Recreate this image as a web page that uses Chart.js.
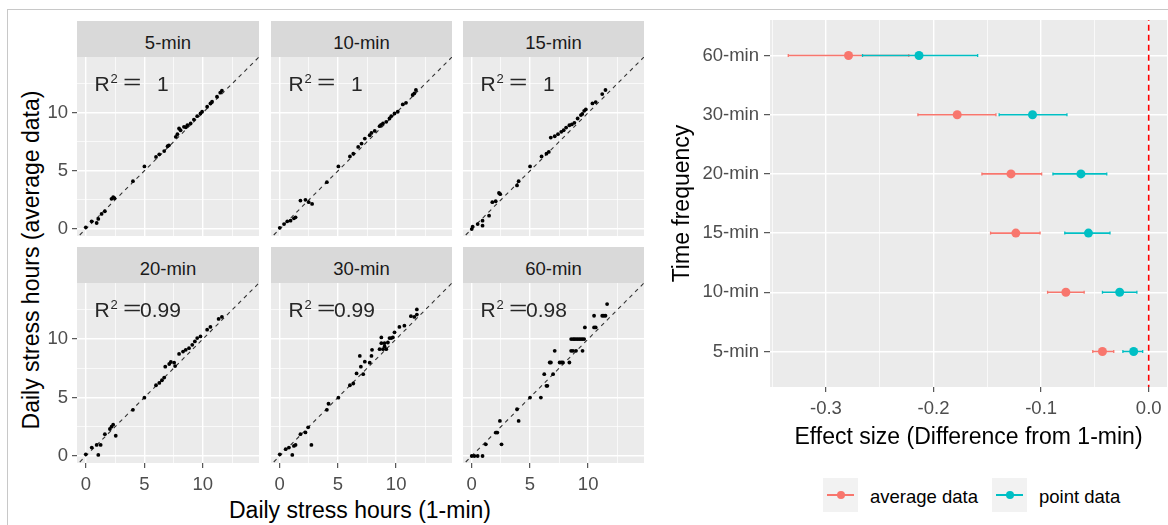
<!DOCTYPE html>
<html>
<head>
<meta charset="utf-8">
<script src="https://cdn.jsdelivr.net/npm/chart.js@4.4.0/dist/chart.umd.min.js"></script>
<style>
  body { margin: 0; background: #fff; width: 1168px; height: 525px; position: relative; overflow: hidden;
         font-family: "Liberation Sans", Arial, sans-serif; }
  canvas { position: absolute; }
  .line { position: absolute; background: #C8C8C8; }
  .strip { position: absolute; background: #D9D9D9; color: #1A1A1A; font-size: 18.5px; text-align: center;
           height: 36px; line-height: 36px; }
  .strip span { position: relative; top: 4px; }
  .r2 { position: absolute; z-index: 2; color: #262626; }
  .r2 span { position: absolute; white-space: pre; }
  .title { position: absolute; color: #000; font-size: 23px; line-height: 26px; text-align: center; white-space: nowrap; }
  .key { position: absolute; background: #F2F2F2; width: 35px; height: 34px; }
  .key .bar { position: absolute; left: 4px; top: 16px; width: 27px; height: 1.5px; }
  .key .dot { position: absolute; left: 14px; top: 13px; width: 8px; height: 8px; border-radius: 50%; }
  .ltext { position: absolute; font-size: 18.5px; line-height: 19px; color: #000; white-space: nowrap; }
</style>
</head>
<body>
<div class="line" style="left:7px;top:9px;width:1161px;height:1px"></div>
<div class="line" style="left:7px;top:9px;width:1px;height:516px"></div>

<div class="title" style="left:-169px;top:247px;width:400px;transform:rotate(-90deg)">Daily stress hours (average data)</div>
<div class="title" style="left:110px;top:497px;width:500px">Daily stress hours (1-min)</div>

<div class="key" style="left:823px;top:478px"><div class="bar" style="background:#F8766D"></div><div class="dot" style="background:#F8766D"></div></div>
<div class="ltext" style="left:870px;top:487px">average data</div>
<div class="key" style="left:992px;top:478px"><div class="bar" style="background:#00BFC4"></div><div class="dot" style="background:#00BFC4"></div></div>
<div class="ltext" style="left:1039px;top:487px">point data</div>

<canvas id="effect" width="508" height="440" style="left:660px;top:12px;width:508px;height:440px"></canvas>

<script>
Chart.defaults.font.family = '"Liberation Sans", Arial, sans-serif';

// facet panels: daily stress hours, 1-min (x) vs coarser sampling (y)
const panelNames = ['5-min', '10-min', '15-min', '20-min', '30-min', '60-min'];
const r2Labels = ['1', '1', '1', '0.99', '0.99', '0.98'];
const facetTicks = [0, 2.5, 5, 7.5, 10, 12.5];

const pts5 = [[0,0.15],[0.5,0.66],[0.93,0.52],[1.07,0.87],[1.35,1.3],[1.63,1.53],[2.2,2.6],[2.34,2.74],[2.45,2.65],
  [4.03,4.12],[5.01,5.39],[6.0,6.2],[6.28,6.43],[6.7,6.71],[6.99,7.12],[7.1,7.2],[7.69,7.93],[7.83,8.16],[7.97,8.65],
  [8.1,8.5],[8.39,8.79],[8.55,8.75],[8.68,8.93],[8.96,9.08],[9.24,9.42],[9.52,9.71],[9.8,9.94],[9.94,10.09],
  [10.37,10.52],[10.65,10.81],[10.79,10.95],[11.21,11.38],[11.49,11.73],[11.63,11.9]];
const pts10 = [[0,0.1],[0.37,0.43],[0.65,0.66],[0.93,0.72],[1.22,0.92],[1.36,1.01],[1.78,2.45],[2.21,2.51],[2.49,2.31],
  [2.78,2.16],[4.05,4.03],[5.04,5.39],[6.03,6.25],[6.32,6.48],[6.74,7.06],[7.03,7.35],[7.31,7.78],[7.73,8.07],[7.88,8.27],
  [8.16,8.44],[8.58,8.85],[8.7,8.95],[8.87,9.08],[9.15,9.22],[9.43,9.51],[9.58,9.71],[9.86,9.94],[10.14,10.09],
  [10.57,10.72],[10.85,10.86],[11.42,11.53],[11.56,11.67],[11.7,11.96]];
const pts15 = [[0,0],[0.08,0.2],[0.51,0.43],[0.93,0.29],[0.93,0.72],[1.49,1.15],[1.77,2.31],[2.06,2.39],[2.34,3.1],
  [2.45,3.0],[3.89,3.75],[4.03,4.12],[5.01,5.39],[6.0,6.25],[6.42,6.48],[6.62,6.63],[6.79,7.87],[7.13,7.98],[7.41,8.16],
  [7.69,8.36],[7.9,8.5],[8.11,8.73],[8.39,8.93],[8.6,9.0],[8.82,9.14],[9.1,9.51],[9.38,9.8],[9.5,9.9],[9.66,10.17],
  [9.8,10.29],[10.37,10.81],[10.65,10.92],[11.21,11.61],[11.49,11.96]];
const pts20 = [[0,0.14],[0.51,0.72],[0.93,0.95],[1.07,0.09],[1.27,0.95],[1.63,1.87],[2.06,2.31],[2.2,2.51],[2.34,2.68],
  [2.56,1.73],[4.03,3.95],[5.01,4.99],[6.0,6.05],[6.28,6.25],[6.51,6.48],[6.7,6.71],[6.79,7.64],[7.13,7.87],[7.27,8.04],
  [7.55,7.98],[7.63,7.69],[7.97,8.73],[8.31,8.93],[8.54,9.08],[8.82,9.22],[9.1,9.51],[9.32,9.8],[9.52,10.09],[9.8,10.23],
  [10.37,10.81],[10.65,11.04],[11.35,11.73],[11.63,11.9]];
const pts30 = [[0,0.14],[0.51,0.58],[0.79,0.72],[1.08,0.09],[1.22,0.86],[1.36,0.95],[1.78,1.87],[2.21,2.02],[2.44,2.45],
  [2.72,0.95],[4.05,3.95],[4.19,4.47],[5.04,4.99],[6.03,6.05],[6.32,6.2],[6.6,7.06],[6.88,8.56],[6.97,7.64],[7.17,7.0],
  [7.31,8.07],[7.73,7.98],[7.88,8.56],[7.93,9.08],[8.58,9.14],[8.73,9.65],[8.73,10.14],[8.87,9.14],[9.01,9.37],
  [9.15,9.14],[9.0,9.65],[9.29,9.71],[9.43,10.09],[9.58,10.09],[9.72,10.14],[9.86,10.58],[10.28,11.04],[10.71,11.15],
  [11.27,11.96],[11.56,11.9],[11.78,12.54],[11.78,12.1]];
const pts60 = [[0,0],[0.23,0],[0.51,0],[0.93,0],[1.21,1],[2.06,2],[2.2,2],[2.42,3],[2.56,1],[3.89,4],[4.03,3],[5.01,5],
  [5.94,5],[6.23,7],[6.42,6],[6.5,6],[6.7,8],[6.8,8],[6.99,7],[7.13,9],[7.55,8],[7.7,8],[7.83,8],[8.39,8],[8.54,9],
  [8.7,9],[8.96,9],[9.52,9],[8.54,10],[8.7,10],[8.82,10],[8.96,10],[9.1,10],[9.24,10],[9.38,10],[9.52,10],[9.66,10],
  [9.72,11],[10.51,11],[10.65,11],[10.51,12],[11.21,12],[11.35,12],[11.49,12],[11.63,13]];
const panelPoints = [pts5, pts10, pts15, pts20, pts30, pts60];
const identityLine = [-1, 16];

// effect sizes (difference from 1-min) with 95% CI
const freqLabels = ['5-min', '10-min', '15-min', '20-min', '30-min', '60-min'];
const avgEst = [-0.043, -0.077, -0.1235, -0.128, -0.178, -0.279];
const avgLo  = [-0.052, -0.094, -0.147, -0.155, -0.2145, -0.335];
const avgHi  = [-0.0325, -0.060, -0.101, -0.0995, -0.142, -0.223];
const ptEst  = [-0.014, -0.027, -0.056, -0.063, -0.108, -0.2135];
const ptLo   = [-0.024, -0.043, -0.078, -0.089, -0.139, -0.266];
const ptHi   = [-0.0056, -0.011, -0.036, -0.039, -0.076, -0.159];
const effectTicks = [-0.35, -0.3, -0.25, -0.2, -0.15, -0.1, -0.05, 0];

const RED = '#F8766D', CYAN = '#00BFC4';
const tickFont = { size: 18.5 };

const panelBg = {
  id: 'panelBg',
  beforeDraw(chart) {
    const { ctx, chartArea: a } = chart;
    ctx.save();
    ctx.fillStyle = '#EBEBEB';
    ctx.fillRect(a.left, a.top, a.right - a.left, a.bottom - a.top);
    ctx.restore();
  }
};

const tickVal = (ctx) => (ctx.tick ? ctx.tick.value : NaN);
const isMajor5 = (v) => Math.abs(v % 5) < 1e-9;

// ---- facets ----
const colLeft = [77, 271, 463], colW = [182, 181, 181];
const rowTop = [57, 283], rowH = [179, 180];

panelNames.forEach((name, i) => {
  const r = Math.floor(i / 3), c = i % 3;
  const showY = c === 0, showX = r === 1;
  const padL = showY ? 0 : 4, padT = 4, padR = 4, padB = showX ? 0 : 8;
  const yW = showY ? 50 : 0, xH = showX ? 35 : 0;
  const w = colW[c] + padL + padR + yW, h = rowH[r] + padT + padB + xH;

  const cv = document.createElement('canvas');
  cv.width = w; cv.height = h;
  cv.style.left = (colLeft[c] - padL - yW) + 'px';
  cv.style.top = (rowTop[r] - padT) + 'px';
  cv.style.width = w + 'px'; cv.style.height = h + 'px';
  document.body.appendChild(cv);

  const strip = document.createElement('div');
  strip.className = 'strip';
  strip.style.left = colLeft[c] + 'px';
  strip.style.top = (rowTop[r] - 36) + 'px';
  strip.style.width = colW[c] + 'px';
  strip.innerHTML = '<span>' + name + '</span>';
  document.body.appendChild(strip);

  const r2 = document.createElement('div');
  r2.className = 'r2';
  r2.style.left = colLeft[c] + 'px';
  r2.style.top = rowTop[r] + 'px';
  const val = r2Labels[i];
  r2.innerHTML =
    '<span style="left:17.5px;top:15.5px;font-size:21px;line-height:21px">R</span>' +
    '<span style="left:33.5px;top:15px;font-size:13px;line-height:13px">2</span>' +
    '<span style="left:45.5px;top:14px;font-size:21px;line-height:21px;transform:scaleX(1.5);transform-origin:0 0">=</span>' +
    '<span style="left:' + (val.length > 1 ? 63 : 80) + 'px;top:15.5px;font-size:21px;line-height:21px">' + val + '</span>';
  document.body.appendChild(r2);

  const gridOpts = (show) => ({
    color: '#FFFFFF',
    lineWidth: (ctx) => (isMajor5(tickVal(ctx)) ? 1.4 : 0.7),
    drawTicks: show,
    tickLength: 5,
    tickWidth: 1,
    tickColor: (ctx) => (isMajor5(tickVal(ctx)) ? '#333333' : 'rgba(0,0,0,0)')
  });

  new Chart(cv, {
    type: 'scatter',
    data: {
      datasets: [
        {
          data: panelPoints[i].map(p => ({ x: p[0], y: p[1] })),
          pointRadius: 1.9,
          pointBackgroundColor: '#000',
          pointBorderWidth: 0
        },
        {
          type: 'line',
          data: identityLine.map(v => ({ x: v, y: v })),
          borderColor: '#333333',
          borderWidth: 1.1,
          borderDash: [4, 4],
          pointRadius: 0,
          clip: 0
        }
      ]
    },
    options: {
      responsive: false,
      animation: false,
      devicePixelRatio: 1,
      events: [],
      layout: { autoPadding: false, padding: { left: padL, top: padT, right: padR, bottom: padB } },
      plugins: { legend: { display: false }, tooltip: { enabled: false } },
      scales: {
        x: {
          type: 'linear', min: -0.75, max: 14.8,
          afterBuildTicks: (ax) => { ax.ticks = facetTicks.map(v => ({ value: v })); },
          afterFit: (ax) => { ax.height = xH; ax.paddingLeft = 0; ax.paddingRight = 0; },
          grid: gridOpts(showX),
          border: { display: false },
          ticks: {
            display: showX, autoSkip: false, maxRotation: 0, padding: 6,
            color: '#4D4D4D', font: tickFont,
            callback: (v) => (isMajor5(v) ? String(v) : '')
          }
        },
        y: {
          type: 'linear', min: -0.6, max: 14.8,
          afterBuildTicks: (ax) => { ax.ticks = facetTicks.map(v => ({ value: v })); },
          afterFit: (ax) => { ax.width = yW; ax.paddingTop = 0; ax.paddingBottom = 0; },
          grid: gridOpts(showY),
          border: { display: false },
          ticks: {
            display: showY, autoSkip: false, padding: 4,
            color: '#4D4D4D', font: tickFont,
            callback: (v) => (isMajor5(v) ? String(v) : '')
          }
        }
      }
    },
    plugins: [panelBg]
  });
});

// ---- effect size plot ----
const isMajor10 = (v) => Math.abs(Math.round(v * 10) - v * 10) < 1e-6;

function errorBarData(lo, hi) {
  const out = [];
  lo.forEach((l, i) => {
    out.push({ x: l, y: i + 1 }, { x: hi[i], y: i + 1 }, { x: hi[i], y: null });
  });
  return out;
}

new Chart(document.getElementById('effect'), {
  type: 'scatter',
  data: {
    datasets: [
      {
        label: 'point data',
        data: ptEst.map((v, i) => ({ x: v, y: i + 1 })),
        pointRadius: 4.5, pointBackgroundColor: CYAN, pointBorderWidth: 0
      },
      {
        label: 'average data',
        data: avgEst.map((v, i) => ({ x: v, y: i + 1 })),
        pointRadius: 4.5, pointBackgroundColor: RED, pointBorderWidth: 0
      },
      {
        type: 'line',
        data: errorBarData(ptLo, ptHi),
        borderColor: CYAN, borderWidth: 1.6, spanGaps: false,
        pointStyle: 'line', rotation: 90, pointRadius: 1.5, pointBorderColor: CYAN, pointBorderWidth: 1.3
      },
      {
        type: 'line',
        data: errorBarData(avgLo, avgHi),
        borderColor: RED, borderWidth: 1.6, spanGaps: false,
        pointStyle: 'line', rotation: 90, pointRadius: 1.5, pointBorderColor: RED, pointBorderWidth: 1.3
      },
      {
        type: 'line',
        data: [{ x: 0, y: 0 }, { x: 0, y: 7 }],
        borderColor: '#FF0000', borderWidth: 1.6, borderDash: [6, 4],
        pointRadius: 0, clip: 0
      }
    ]
  },
  options: {
    responsive: false,
    animation: false,
    devicePixelRatio: 1,
    events: [],
    layout: { autoPadding: false, padding: { left: 0, top: 8, right: 1, bottom: 0 } },
    plugins: { legend: { display: false }, tooltip: { enabled: false } },
    scales: {
      x: {
        type: 'linear', min: -0.352, max: 0.017,
        afterBuildTicks: (ax) => { ax.ticks = effectTicks.map(v => ({ value: v })); },
        afterFit: (ax) => { ax.height = 65; ax.paddingLeft = 0; ax.paddingRight = 0; },
        grid: {
          color: '#FFFFFF',
          lineWidth: (ctx) => (isMajor10(tickVal(ctx)) ? 1.4 : 0.7),
          tickLength: 5, tickWidth: 1,
          tickColor: (ctx) => (isMajor10(tickVal(ctx)) ? '#333333' : 'rgba(0,0,0,0)')
        },
        border: { display: false },
        ticks: {
          autoSkip: false, maxRotation: 0, padding: 6, color: '#4D4D4D', font: tickFont,
          callback: (v) => (isMajor10(v) ? (Math.round(v * 10) / 10).toFixed(1) : '')
        },
        title: {
          display: true, text: 'Effect size (Difference from 1-min)', color: '#000',
          font: { size: 23 }, padding: { top: 0, bottom: 1 }
        }
      },
      y: {
        type: 'linear', min: 0.4, max: 6.6,
        afterBuildTicks: (ax) => { ax.ticks = freqLabels.map((_, i) => ({ value: i + 1 })); },
        afterFit: (ax) => { ax.width = 110; ax.paddingTop = 0; ax.paddingBottom = 0; },
        grid: { color: '#FFFFFF', lineWidth: 1.4, tickLength: 6, tickWidth: 1, tickColor: '#333333' },
        border: { display: false },
        ticks: {
          autoSkip: false, padding: 5, color: '#4D4D4D', font: tickFont,
          callback: (v) => freqLabels[Math.round(v) - 1]
        },
        title: {
          display: true, text: 'Time frequency', color: '#000',
          font: { size: 23 }, padding: { top: 9, bottom: 0 }
        }
      }
    }
  },
  plugins: [panelBg]
});
</script>
</body>
</html>
